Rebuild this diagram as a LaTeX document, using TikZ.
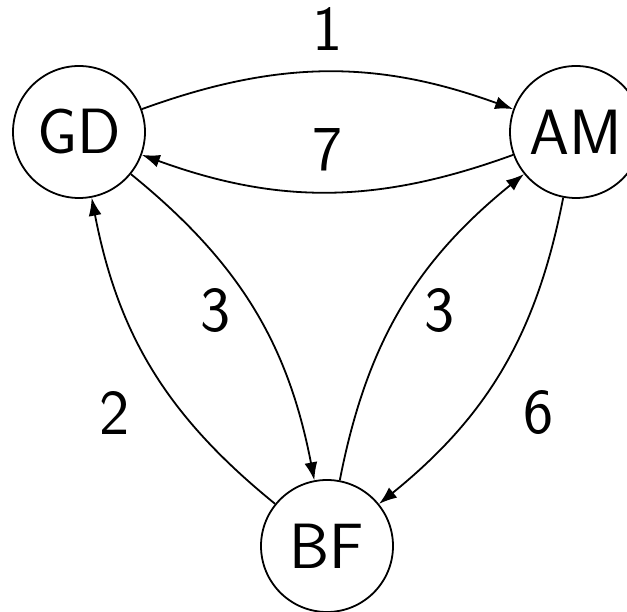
\documentclass[tikz,border=0pt]{standalone}
\usetikzlibrary{arrows.meta}
\begin{document}
\begin{tikzpicture}[x=1pt,y=-1pt,
  state/.style={draw,circle,line width=1.8pt,minimum size=132pt,inner sep=0pt,font=\sffamily\fontsize{64}{72}\selectfont},
  lbl/.style={inner sep=0pt,font=\sffamily\fontsize{64}{72}\selectfont},
  edge/.style={line width=1.8pt,-{Latex[length=18pt,width=13pt]},bend left=20}]
\useasboundingbox (0,0) rectangle (627,612);
\node[state] (GD) at (79,132) {GD};
\node[state] (AM) at (576,132) {AM};
\node[state] (BF) at (327,546) {BF};
\draw[edge] (GD) to (AM);
\draw[edge] (AM) to (GD);
\draw[edge] (GD) to (BF);
\draw[edge] (BF) to (GD);
\draw[edge] (BF) to (AM);
\draw[edge] (AM) to (BF);
\node[lbl] (l1) at (328,29) {1};
\node[lbl] (l7) at (328,150) {7};
\node[lbl] (l3a) at (216,311) {3};
\node[lbl] (l2) at (115,413) {2};
\node[lbl] (l3b) at (440,311) {3};
\node[lbl] (l6) at (539,413) {6};
\end{tikzpicture}
\end{document}
